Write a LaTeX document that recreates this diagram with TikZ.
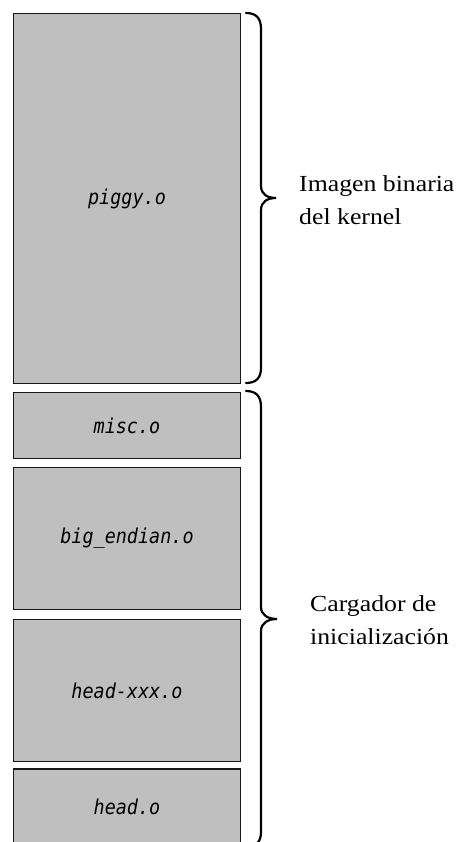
\documentclass[tikz,border=0pt]{standalone}
\usepackage{fontspec}
\setmainfont[FakeStretch=1.12]{Liberation Serif}
\newfontfamily\codefont[FakeStretch=0.9]{DejaVu Sans Mono}
\begin{document}
\begin{tikzpicture}[x=1pt,y=-1pt,
  objbox/.style={draw=black!90, line width=1.5pt, fill=black!25,
    minimum width=227pt, inner sep=0pt,
    font=\codefont\itshape\fontsize{20.5}{23}\selectfont},
  bracepath/.style={draw=black, line width=2.2pt, line cap=round},
  labeltext/.style={anchor=west, inner sep=0pt, align=left,
    font=\fontsize{23}{32.5}\selectfont}]
\useasboundingbox (0,0) rectangle (465,842);
% boxes
\node[objbox, minimum height=370pt] (piggy) at (127,198.5) {piggy.o};
\node[objbox, minimum height=66pt]  (misc)  at (127,425.5) {misc.o};
\node[objbox, minimum height=142pt] (bigend) at (127,538.5) {big\_endian.o};
\node[objbox, minimum height=142pt] (headx) at (127,690.5) {head-xxx.o};
\node[objbox, minimum height=76pt]  (head)  at (127,807) {head.o};
% brace 1
\coordinate (b1top) at (246,13);
\coordinate (b1tip) at (276,198);
\coordinate (b1bot) at (246,383);
\draw[bracepath] (b1top) .. controls (256,13) and (261,18) .. (261,29)
  -- (261,186) .. controls (261,194) and (267,198) .. (b1tip)
  .. controls (267,198) and (261,202) .. (261,210)
  -- (261,368) .. controls (261,378) and (256,383) .. (b1bot);
% brace 2
\coordinate (b2top) at (246,391);
\coordinate (b2tip) at (277,619);
\coordinate (b2bot) at (246,847);
\draw[bracepath] (b2top) .. controls (256,391) and (261,396) .. (261,407)
  -- (261,607) .. controls (261,615) and (268,619) .. (b2tip)
  .. controls (268,619) and (261,623) .. (261,631)
  -- (261,832) .. controls (261,842) and (256,847) .. (b2bot);
% labels
\node[labeltext] (lbl1) at (299,200) {Imagen binaria\\del kernel};
\node[labeltext] (lbl2) at (310,620) {Cargador de\\inicialización};
\end{tikzpicture}
\end{document}
